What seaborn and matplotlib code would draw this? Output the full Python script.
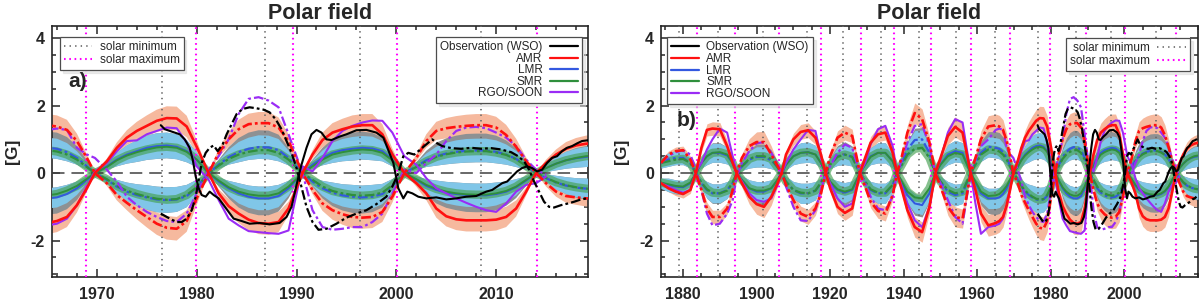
import numpy as np
import pandas as pd
import matplotlib
matplotlib.use("Agg")
import matplotlib.pyplot as plt
import seaborn as sns
from matplotlib.lines import Line2D
from matplotlib.ticker import MultipleLocator

# model grid (reversal epochs carry the zero crossings)
years = [1874, 1876, 1878, 1880, 1882, 1883.5,
         1885, 1886.5, 1888, 1890, 1892, 1893.5, 1894.6,
         1896, 1898, 1900, 1902, 1904, 1905.5, 1906.8,
         1908, 1910, 1912, 1914, 1916, 1917.5, 1918.8,
         1920, 1922, 1924, 1926, 1928.1,
         1929.5, 1931, 1933, 1935, 1937, 1938.2,
         1939.5, 1941, 1943, 1945, 1947, 1948.6,
         1950, 1952, 1954, 1956, 1958.2,
         1959.5, 1961, 1963, 1965, 1966, 1967, 1968, 1969, 1969.8,
         1971, 1972, 1973, 1974, 1975, 1976, 1977, 1978, 1979, 1980, 1981.2,
         1982.2, 1983.2, 1984.2, 1985.2, 1986.2, 1987.2, 1988.2, 1989.2, 1990.6,
         1991.6, 1992.6, 1993.6, 1994.6, 1995.6, 1996.6, 1997.6, 1998.6, 1999.6, 2000.8,
         2002, 2003, 2004, 2005, 2006, 2007, 2008, 2009, 2010, 2011, 2012, 2013, 2014,
         2015, 2016, 2017, 2018, 2019, 2020]

amr_n = [-0.3, -0.45, -0.55, -0.62, -0.5, 0,
         0.75, 1.28, 1.32, 1.3, 0.8, 0.3, 0,
         -0.3, -0.7, -0.92, -1.0, -0.7, -0.35, 0,
         0.55, 1.0, 1.22, 1.27, 1.05, 0.55, 0,
         -0.45, -1.0, -1.18, -1.05, 0,
         0.45, 0.9, 1.15, 1.2, 0.6, 0,
         -0.5, -1.1, -1.6, -1.75, -1.0, 0,
         0.45, 1.1, 1.37, 1.2, 0,
         -0.5, -1.2, -1.55, -1.48, -1.42, -1.3, -0.95, -0.45, 0,
         0.35, 0.75, 1.05, 1.25, 1.4, 1.55, 1.63, 1.62, 1.38, 0.78, 0,
         -0.6, -0.98, -1.2, -1.38, -1.48, -1.5, -1.45, -1.05, 0,
         0.55, 0.98, 1.2, 1.3, 1.38, 1.42, 1.42, 1.15, 0.55, 0,
         -0.3, -0.6, -1.05, -1.28, -1.37, -1.4, -1.4, -1.4, -1.38, -1.3, -1.05, -0.55, 0,
         0.3, 0.55, 0.72, 0.82, 0.87, 0.9]

amr_s = [0.3, 0.55, 0.65, 0.68, 0.4, 0,
         -0.5, -1.05, -1.3, -1.3, -1.05, -0.5, 0,
         0.45, 0.8, 0.92, 0.92, 0.55, 0.25, 0,
         -0.35, -0.8, -1.2, -1.3, -1.05, -0.6, 0,
         0.5, 1.05, 1.2, 1.1, 0,
         -0.4, -0.85, -1.12, -1.2, -0.65, 0,
         0.5, 1.2, 1.78, 1.6, 0.9, 0,
         -0.4, -1.0, -1.3, -1.35, 0,
         0.45, 1.0, 1.38, 1.42, 1.38, 1.28, 0.95, 0.45, 0,
         -0.3, -0.65, -0.88, -1.1, -1.3, -1.5, -1.62, -1.65, -1.42, -0.75, 0,
         0.6, 1.0, 1.3, 1.45, 1.48, 1.48, 1.35, 0.95, 0,
         -0.5, -0.9, -1.1, -1.22, -1.3, -1.32, -1.3, -1.15, -0.7, 0,
         0.45, 0.95, 1.25, 1.33, 1.37, 1.4, 1.42, 1.42, 1.35, 1.13, 0.78, 0.35, 0,
         -0.3, -0.55, -0.68, -0.72, -0.75, -0.75]

lmr_n = [-0.3, -0.35, -0.4, -0.42, -0.3, 0,
         0.3, 0.5, 0.6, 0.6, 0.52, 0.3, 0,
         -0.2, -0.45, -0.55, -0.55, -0.45, -0.25, 0,
         0.25, 0.5, 0.6, 0.62, 0.55, 0.3, 0,
         -0.3, -0.5, -0.58, -0.5, 0,
         0.25, 0.5, 0.6, 0.6, 0.35, 0,
         -0.3, -0.65, -0.9, -0.95, -0.6, 0,
         0.25, 0.55, 0.65, 0.6, 0,
         -0.3, -0.6, -0.75, -0.75, -0.72, -0.62, -0.45, -0.2, 0,
         0.2, 0.4, 0.55, 0.65, 0.75, 0.8, 0.82, 0.78, 0.65, 0.4, 0,
         -0.25, -0.45, -0.6, -0.7, -0.75, -0.75, -0.68, -0.45, 0,
         0.25, 0.45, 0.6, 0.68, 0.72, 0.75, 0.73, 0.65, 0.4, 0,
         -0.2, -0.38, -0.5, -0.58, -0.62, -0.65, -0.66, -0.66, -0.62, -0.55, -0.42, -0.22, 0,
         0.15, 0.28, 0.38, 0.44, 0.48, 0.5]

lmr_s = [0.3, 0.4, 0.45, 0.45, 0.3, 0,
         -0.3, -0.5, -0.6, -0.6, -0.5, -0.3, 0,
         0.2, 0.4, 0.48, 0.48, 0.38, 0.2, 0,
         -0.25, -0.5, -0.6, -0.6, -0.52, -0.3, 0,
         0.28, 0.5, 0.55, 0.48, 0,
         -0.25, -0.5, -0.6, -0.6, -0.35, 0,
         0.3, 0.7, 0.98, 1.0, 0.6, 0,
         -0.25, -0.55, -0.65, -0.6, 0,
         0.3, 0.6, 0.78, 0.75, 0.72, 0.62, 0.45, 0.2, 0,
         -0.2, -0.4, -0.55, -0.65, -0.72, -0.78, -0.8, -0.78, -0.68, -0.42, 0,
         0.25, 0.47, 0.62, 0.72, 0.77, 0.76, 0.68, 0.45, 0,
         -0.25, -0.45, -0.58, -0.66, -0.7, -0.72, -0.7, -0.62, -0.38, 0,
         0.2, 0.38, 0.5, 0.58, 0.63, 0.66, 0.67, 0.67, 0.63, 0.55, 0.42, 0.22, 0,
         -0.15, -0.28, -0.37, -0.43, -0.46, -0.48]

smr_n = [-0.28, -0.33, -0.38, -0.4, -0.28, 0,
         0.3, 0.5, 0.6, 0.62, 0.55, 0.3, 0,
         -0.2, -0.45, -0.52, -0.52, -0.45, -0.22, 0,
         0.25, 0.5, 0.6, 0.62, 0.55, 0.3, 0,
         -0.25, -0.48, -0.55, -0.48, 0,
         0.25, 0.48, 0.6, 0.6, 0.35, 0,
         -0.25, -0.55, -0.72, -0.75, -0.45, 0,
         0.25, 0.5, 0.6, 0.55, 0,
         -0.25, -0.55, -0.68, -0.66, -0.62, -0.52, -0.38, -0.17, 0,
         0.18, 0.38, 0.52, 0.62, 0.7, 0.76, 0.78, 0.75, 0.63, 0.4, 0,
         -0.22, -0.42, -0.55, -0.63, -0.67, -0.67, -0.6, -0.4, 0,
         0.2, 0.4, 0.55, 0.62, 0.67, 0.7, 0.68, 0.6, 0.38, 0,
         -0.18, -0.35, -0.47, -0.55, -0.6, -0.63, -0.64, -0.64, -0.6, -0.53, -0.4, -0.2, 0,
         0.15, 0.28, 0.38, 0.45, 0.5, 0.52]

smr_s = [0.3, 0.35, 0.4, 0.42, 0.3, 0,
         -0.28, -0.48, -0.58, -0.6, -0.52, -0.28, 0,
         0.2, 0.42, 0.5, 0.5, 0.42, 0.2, 0,
         -0.25, -0.5, -0.58, -0.6, -0.52, -0.28, 0,
         0.25, 0.48, 0.55, 0.48, 0,
         -0.25, -0.48, -0.58, -0.58, -0.35, 0,
         0.25, 0.55, 0.72, 0.75, 0.45, 0,
         -0.25, -0.5, -0.6, -0.55, 0,
         0.25, 0.55, 0.7, 0.68, 0.64, 0.55, 0.4, 0.18, 0,
         -0.18, -0.38, -0.52, -0.62, -0.7, -0.76, -0.79, -0.77, -0.65, -0.42, 0,
         0.22, 0.42, 0.55, 0.63, 0.68, 0.68, 0.6, 0.4, 0,
         -0.2, -0.4, -0.53, -0.6, -0.65, -0.67, -0.65, -0.58, -0.36, 0,
         0.18, 0.35, 0.48, 0.56, 0.61, 0.64, 0.65, 0.65, 0.61, 0.54, 0.41, 0.21, 0,
         -0.14, -0.27, -0.36, -0.42, -0.46, -0.48]

rgo_n = [-0.3, -0.4, -0.5, -0.58, -0.5, 0.05,
         0.3, 0.7, 1.0, 1.32, 1.2, 0.5, 0,
         -0.25, -0.6, -0.8, -0.85, -0.75, -0.4, 0,
         0.3, 0.7, 1.0, 1.28, 1.25, 0.5, 0,
         -0.3, -0.75, -1.0, -0.9, 0,
         0.3, 0.85, 1.3, 1.4, 0.8, 0,
         -0.4, -0.9, -1.4, -1.6, -1.0, 0,
         0.4, 1.2, 1.6, 1.5, 0,
         -0.9, -1.8, -1.6, -1.55, -1.5, -1.35, -0.95, -0.4, 0.05,
         0.3, 0.65, 0.95, 0.97, 1.15, 1.25, 1.35, 1.33, 0.9, 0.2, -0.2,
         -0.8, -1.35, -1.55, -1.72, -1.75, -1.78, -1.8, -1.7, 0.2,
         0.05, 0.45, 0.95, 1.25, 1.4, 1.5, 1.56, 1.55, 1.2, 0.5,
         0.25, -0.15, -0.45, -0.6, -0.75, -0.88, -1.0, -1.1, -1.15, -0.9, -0.55, -0.35, -0.3,
         -0.1, np.nan, np.nan, np.nan, np.nan, np.nan]

rgo_s = [0.3, 0.5, 0.62, 0.68, 0.55, 0.1,
         -0.5, -1.2, -1.55, -1.5, -1.2, -0.8, -0.1,
         0.3, 0.65, 0.88, 0.92, 0.6, 0.3, 0,
         -0.4, -1.0, -1.4, -1.42, -1.1, -0.5, 0,
         0.2, 0.6, 0.85, 0.75, 0,
         -0.3, -0.7, -1.05, -1.1, -0.7, 0,
         0.4, 0.9, 1.4, 1.45, 0.8, 0,
         -0.3, -0.8, -1.3, -1.5, 0,
         0.4, 0.8, 1.0, 1.28, 1.32, 1.28, 0.75, 0.55, 0.45,
         0.1, -0.25, -0.7, -0.95, -1.15, -1.3, -1.42, -1.45, -1.2, -0.6, 0.1,
         0.5, 1.0, 1.75, 2.2, 2.25, 2.15, 1.95, 1.15, 0,
         -1.1, -1.6, -1.68, -1.65, -1.6, -1.6, -1.45, -1.2, -0.6, 0.1,
         0.0, 0.3, 0.55, 0.95, 1.25, 1.35, 1.37, 1.33, 1.2, 1.05, 0.8, 0.4, 0.1,
         -0.05, np.nan, np.nan, np.nan, np.nan, np.nan]

# half widths of the shaded ranges
amr_err = [0.08, 0.1, 0.12, 0.12, 0.1, 0,
           0.12, 0.18, 0.2, 0.2, 0.17, 0.1, 0,
           0.12, 0.22, 0.3, 0.32, 0.25, 0.12, 0,
           0.1, 0.18, 0.22, 0.22, 0.2, 0.12, 0,
           0.12, 0.2, 0.22, 0.2, 0,
           0.1, 0.18, 0.22, 0.22, 0.15, 0,
           0.12, 0.22, 0.3, 0.3, 0.2, 0,
           0.12, 0.25, 0.3, 0.28, 0,
           0.12, 0.25, 0.32, 0.33, 0.33, 0.3, 0.22, 0.1, 0,
           0.08, 0.16, 0.22, 0.27, 0.31, 0.33, 0.35, 0.35, 0.32, 0.2, 0,
           0.12, 0.22, 0.28, 0.31, 0.33, 0.33, 0.3, 0.2, 0,
           0.12, 0.22, 0.28, 0.31, 0.33, 0.33, 0.33, 0.3, 0.18, 0,
           0.1, 0.2, 0.27, 0.3, 0.32, 0.33, 0.33, 0.33, 0.32, 0.3, 0.24, 0.12, 0,
           0.1, 0.15, 0.2, 0.22, 0.24, 0.25]

lmr_err = [0.15, 0.2, 0.2, 0.2, 0.15, 0,
           0.15, 0.25, 0.28, 0.28, 0.25, 0.15, 0,
           0.12, 0.25, 0.3, 0.3, 0.25, 0.12, 0,
           0.15, 0.25, 0.3, 0.3, 0.27, 0.15, 0,
           0.15, 0.27, 0.3, 0.27, 0,
           0.15, 0.25, 0.3, 0.3, 0.2, 0,
           0.12, 0.22, 0.28, 0.28, 0.2, 0,
           0.15, 0.3, 0.32, 0.3, 0,
           0.12, 0.25, 0.3, 0.3, 0.3, 0.27, 0.2, 0.1, 0,
           0.1, 0.2, 0.27, 0.32, 0.36, 0.38, 0.38, 0.37, 0.33, 0.22, 0,
           0.12, 0.22, 0.3, 0.33, 0.35, 0.35, 0.33, 0.22, 0,
           0.12, 0.22, 0.3, 0.33, 0.35, 0.35, 0.35, 0.3, 0.2, 0,
           0.1, 0.2, 0.28, 0.32, 0.34, 0.35, 0.35, 0.35, 0.34, 0.3, 0.24, 0.12, 0,
           0.12, 0.2, 0.25, 0.28, 0.3, 0.3]

grey_err = [0.15, 0.2, 0.22, 0.22, 0.15, 0,
            0.15, 0.25, 0.3, 0.3, 0.25, 0.15, 0,
            0.15, 0.3, 0.38, 0.38, 0.3, 0.15, 0,
            0.15, 0.25, 0.3, 0.3, 0.27, 0.15, 0,
            0.18, 0.32, 0.38, 0.32, 0,
            0.15, 0.25, 0.3, 0.3, 0.2, 0,
            0.12, 0.25, 0.35, 0.35, 0.25, 0,
            0.15, 0.3, 0.32, 0.3, 0,
            0.15, 0.35, 0.45, 0.48, 0.48, 0.45, 0.35, 0.18, 0,
            0.1, 0.2, 0.27, 0.32, 0.36, 0.38, 0.38, 0.37, 0.33, 0.22, 0,
            0.15, 0.3, 0.42, 0.48, 0.5, 0.5, 0.46, 0.3, 0,
            0.15, 0.3, 0.4, 0.45, 0.48, 0.48, 0.46, 0.4, 0.25, 0,
            0.12, 0.28, 0.4, 0.45, 0.48, 0.5, 0.5, 0.5, 0.48, 0.42, 0.32, 0.16, 0,
            0.12, 0.2, 0.25, 0.3, 0.32, 0.32]

# WSO observations, north (solid) and south (dash-dot)
wso_n_year = [1976.4, 1976.8, 1977.3, 1977.8, 1978.3, 1978.8, 1979.3, 1979.6, 1979.9, 1980.2,
              1980.5, 1980.9, 1981.3, 1981.7, 1982.2, 1982.7, 1983.2, 1983.7, 1984.5, 1985.3,
              1986.3, 1987.3, 1988.3, 1989.0, 1989.5, 1990.0, 1990.5, 1991.0, 1991.5, 1992.0,
              1992.5, 1993.0, 1993.5, 1994.3, 1995.0, 1996.0, 1997.0, 1998.0, 1998.7, 1999.3,
              1999.7, 2000.2, 2000.7, 2001.1, 2001.6, 2002.2, 2003.0, 2004.0, 2005.0, 2006.0,
              2007.0, 2008.0, 2009.0, 2009.6, 2010.1, 2010.6, 2011.1, 2011.6, 2012.1, 2012.6,
              2013.1, 2013.6, 2014.1, 2014.6, 2015.1, 2015.6, 2016.1, 2016.6, 2017.1, 2017.6,
              2018.1, 2018.6, 2019.1, 2019.6]
wso_n = [1.42, 1.3, 1.25, 1.2, 1.15, 1.0, 0.75, 0.4, -0.1, -0.45,
         -0.65, -0.7, -0.55, -0.65, -0.75, -0.95, -1.15, -1.35, -1.42, -1.5,
         -1.48, -1.52, -1.48, -1.3, -1.0, -0.35, 0.25, 0.75, 1.15, 1.28,
         1.2, 1.0, 0.98, 1.08, 1.15, 1.27, 1.28, 1.2, 1.05, 0.6,
         0.3, -0.45, -0.75, -0.55, -0.6, -0.7, -0.75, -0.72, -0.78, -0.75,
         -0.7, -0.68, -0.55, -0.5, -0.4, -0.3, -0.25, -0.1, 0.05, 0.15,
         0.2, 0.15, 0.05, 0.1, 0.3, 0.45, 0.5, 0.65, 0.75, 0.8,
         0.88, 0.95, 0.97, 1.0]

wso_s_year = [1976.4, 1977.0, 1977.5, 1978.0, 1978.5, 1979.0, 1979.5, 1979.9, 1980.2, 1980.5,
              1980.9, 1981.3, 1981.7, 1982.1, 1982.6, 1983.0, 1983.5, 1984.0, 1984.6, 1985.3,
              1986.0, 1986.7, 1987.3, 1987.9, 1988.5, 1989.0, 1989.5, 1990.0, 1990.4, 1991.0,
              1991.6, 1992.2, 1993.0, 1994.0, 1995.0, 1996.0, 1997.0, 1998.0, 1999.0, 1999.6,
              2000.2, 2000.7, 2001.2, 2001.8, 2002.4, 2003.0, 2003.6, 2004.1, 2004.6, 2005.5,
              2006.5, 2007.5, 2008.5, 2009.5, 2010.5, 2011.5, 2012.2, 2012.8, 2013.3, 2013.8,
              2014.3, 2014.8, 2015.3, 2015.8, 2016.5, 2017.2, 2017.8, 2018.5, 2019.1, 2019.6]
wso_s = [-1.2, -1.3, -1.38, -1.45, -1.45, -1.35, -1.1, -0.7, -0.2, 0.3,
         0.6, 0.75, 0.82, 0.65, 0.85, 1.15, 1.45, 1.75, 1.9, 1.95,
         1.92, 1.88, 1.8, 1.6, 1.3, 0.95, 0.6, 0.15, -0.3, -1.0,
         -1.45, -1.68, -1.65, -1.5, -1.32, -1.2, -1.1, -0.92, -0.7, -0.4,
         0.0, 0.5, 0.6, 0.55, 0.7, 0.85, 1.0, 0.88, 0.8, 0.74,
         0.72, 0.75, 0.72, 0.74, 0.7, 0.62, 0.5, 0.35, 0.1, -0.25,
         -0.55, -0.85, -1.0, -1.02, -0.95, -0.9, -0.85, -0.78, -0.75, -0.7]

solar_min = [1878.9, 1889.5, 1901.7, 1913.6, 1923.6, 1933.8, 1944.2, 1954.3, 1964.9,
             1976.5, 1986.8, 1996.4, 2008.5]
solar_max = [1883.9, 1894.1, 1906.2, 1917.6, 1928.4, 1937.4, 1947.5, 1958.2, 1968.9,
             1979.9, 1989.6, 2000.1, 2014.1]

model_labels = ["Observation (WSO)", "AMR", "LMR", "SMR", "RGO/SOON"]
cycle_labels = ["solar minimum", "solar maximum"]

df = pd.DataFrame({"year": years, "amr_n": amr_n, "amr_s": amr_s, "lmr_n": lmr_n,
                   "lmr_s": lmr_s, "smr_n": smr_n, "smr_s": smr_s, "rgo_n": rgo_n,
                   "rgo_s": rgo_s, "amr_err": amr_err, "lmr_err": lmr_err,
                   "grey_err": grey_err})
obs_n = pd.DataFrame({"year": wso_n_year, "B": wso_n})
obs_s = pd.DataFrame({"year": wso_s_year, "B": wso_s})

sns.set_style("ticks")
plt.rcParams["font.family"] = ["Liberation Sans", "DejaVu Sans"]
plt.rcParams["axes.unicode_minus"] = False
plt.rcParams["lines.scale_dashes"] = False

SALMON = "#f6b99e"
SKY = "#80c6e8"
GREY = "#8e9193"
RED = "#ff1010"
BLUE = "#3358e0"
GREEN = "#2f8f3c"
PURPLE = "#9a2cf5"
DASHDOT = (0, (7, 2.2, 2, 2.2))

fig = plt.figure(figsize=(12, 3.04), dpi=100)
ax_a = fig.add_axes([0.0433, 0.0888, 0.4467, 0.8257])
ax_b = fig.add_axes([0.5508, 0.0888, 0.4475, 0.8257])


def draw_panel(ax, xlim, xticks, xminor):
    yr = df["year"]
    for c in ["amr_n", "amr_s"]:
        ax.fill_between(yr, df[c] - df["amr_err"], df[c] + df["amr_err"],
                        color=SALMON, lw=0, zorder=1)
    # grey range only reaches outward from the LMR band
    for c in ["lmr_n", "lmr_s"]:
        sgn = np.sign(df[c])
        ax.fill_between(yr, df[c] - sgn * df["lmr_err"], df[c] + sgn * df["grey_err"],
                        color=GREY, lw=0, zorder=2)
    for c in ["lmr_n", "lmr_s"]:
        ax.fill_between(yr, df[c] - df["lmr_err"], df[c] + df["lmr_err"],
                        color=SKY, lw=0, zorder=3)
    for c in ["smr_n", "smr_s"]:
        sns.lineplot(data=df, x="year", y=c, ax=ax, color="#45a152", lw=6,
                     alpha=0.65, estimator=None, sort=False, zorder=4)

    ax.axhline(0, color="0.25", lw=1.1, ls=(0, (9, 5)), zorder=5)
    for x in solar_min:
        ax.axvline(x, color="0.4", lw=1.2, ls=(0, (1, 3)), zorder=5)
    for x in solar_max:
        ax.axvline(x, color="#ff00ff", lw=1.5, ls=(0, (1.2, 2.6)), zorder=5)

    specs = [("lmr_n", BLUE, "-", 1.4), ("lmr_s", BLUE, DASHDOT, 1.6),
             ("smr_n", GREEN, "-", 1.4), ("smr_s", GREEN, DASHDOT, 1.6),
             ("rgo_n", PURPLE, "-", 1.5), ("rgo_s", PURPLE, DASHDOT, 1.6),
             ("amr_n", RED, "-", 1.9), ("amr_s", RED, DASHDOT, 1.9)]
    for i, (c, col, ls, lw) in enumerate(specs):
        sns.lineplot(data=df, x="year", y=c, ax=ax, color=col, lw=lw, linestyle=ls,
                     estimator=None, sort=False, zorder=6 + i * 0.1)
    sns.lineplot(data=obs_n, x="year", y="B", ax=ax, color="k", lw=1.5,
                 estimator=None, sort=False, zorder=7)
    sns.lineplot(data=obs_s, x="year", y="B", ax=ax, color="k", lw=1.6,
                 linestyle=DASHDOT, estimator=None, sort=False, zorder=7)

    ax.set_xlim(*xlim)
    ax.set_ylim(-3.08, 4.36)
    ax.set_xticks(xticks)
    ax.set_xticklabels([str(t) for t in xticks], fontweight="bold", fontsize=11.5)
    ax.set_yticks([-2, 0, 2, 4])
    ax.set_yticklabels(["-2", "0", "2", "4"], fontweight="bold", fontsize=11.5)
    ax.xaxis.set_minor_locator(MultipleLocator(xminor))
    ax.yaxis.set_minor_locator(MultipleLocator(0.5))
    ax.tick_params(which="both", direction="in", top=True, right=True, width=1.1)
    ax.tick_params(which="major", length=6)
    ax.tick_params(axis="x", which="major", pad=7)
    ax.tick_params(axis="y", which="major", pad=5)
    ax.tick_params(which="minor", length=3)
    for s in ax.spines.values():
        s.set_linewidth(1.2)
    ax.set_xlabel("")
    ax.set_ylabel("[G]", fontsize=12.5, fontweight="bold", labelpad=8)
    ax.set_title("Polar field", fontsize=15.5, fontweight="bold", pad=5)


def model_handles():
    return [Line2D([], [], color="k", lw=1.6), Line2D([], [], color=RED, lw=1.6),
            Line2D([], [], color=BLUE, lw=1.6), Line2D([], [], color=GREEN, lw=1.6),
            Line2D([], [], color=PURPLE, lw=1.6)]


def cycle_handles():
    return [Line2D([], [], color="0.4", lw=1.2, ls=(0, (1, 3))),
            Line2D([], [], color="#ff00ff", lw=1.5, ls=(0, (1.2, 2.6)))]


leg_kw = dict(fontsize=8.5, frameon=True, fancybox=False, borderaxespad=0,
              handlelength=2.4, handletextpad=0.6, borderpad=0.35,
              shadow={"ox": 2, "oy": -2, "shade": 0.15})


def style_legend(leg):
    leg.get_frame().set_edgecolor("0.3")
    leg.get_frame().set_linewidth(0.9)
    leg.get_frame().set_alpha(1)
    leg.set_zorder(20)


draw_panel(ax_a, (1965.5, 2019.2), [1970, 1980, 1990, 2000, 2010], 2)
draw_panel(ax_b, (1874, 2020), [1880, 1900, 1920, 1940, 1960, 1980, 2000], 5)

leg1 = ax_a.legend(cycle_handles(), cycle_labels, loc="upper left", labelspacing=0.05,
                   bbox_to_anchor=(0.015, 0.956), **leg_kw)
style_legend(leg1)
ax_a.add_artist(leg1)
leg2 = ax_a.legend(model_handles(), model_labels, loc="upper right", markerfirst=False,
                   labelspacing=-0.04, bbox_to_anchor=(0.989, 0.956), **leg_kw)
style_legend(leg2)

leg3 = ax_b.legend(model_handles(), model_labels, loc="upper left", labelspacing=-0.02,
                   bbox_to_anchor=(0.011, 0.956), **leg_kw)
style_legend(leg3)
ax_b.add_artist(leg3)
leg4 = ax_b.legend(cycle_handles(), cycle_labels, loc="upper right", markerfirst=False,
                   labelspacing=0.05, bbox_to_anchor=(0.985, 0.952), **leg_kw)
style_legend(leg4)

ax_a.text(0.03, 0.777, "a)", transform=ax_a.transAxes, fontsize=15, fontweight="bold",
          va="center", ha="left", zorder=21)
ax_b.text(0.03, 0.625, "b)", transform=ax_b.transAxes, fontsize=15, fontweight="bold",
          va="center", ha="left", zorder=21)

fig.savefig("out.png", dpi=100)
